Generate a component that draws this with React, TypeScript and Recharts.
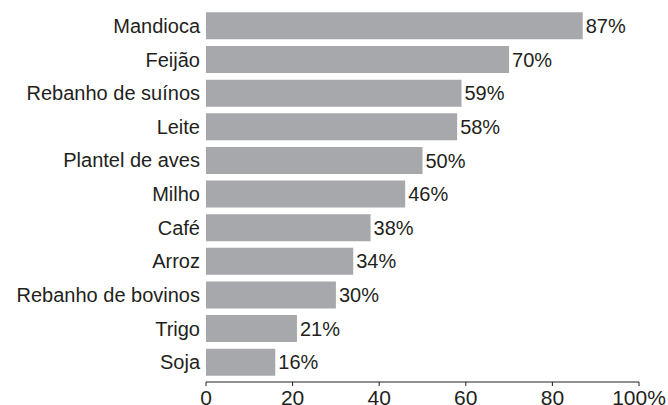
import React from 'react'
import { BarChart, Bar, XAxis, YAxis, LabelList } from 'recharts'

const categories = [
  'Mandioca', 'Feijão', 'Rebanho de suínos', 'Leite', 'Plantel de aves', 'Milho',
  'Café', 'Arroz', 'Rebanho de bovinos', 'Trigo', 'Soja',
]
const values = [87, 70, 59, 58, 50, 46, 38, 34, 30, 21, 16]
const xTicks = [0, 20, 40, 60, 80, 100]

const data = categories.map((name, i) => ({ name, value: values[i] }))

const ink = '#231f20'

export default function App() {
  return (
    <div style={{ position: 'absolute', left: 0, top: 0, fontFamily: '"Liberation Sans", Arial, sans-serif' }}>
      <BarChart
        width={668}
        height={405}
        data={data}
        layout="vertical"
        margin={{ top: 9, right: 29, left: 0, bottom: 0 }}
        barCategoryGap="10%"
      >
        <XAxis
          type="number"
          domain={[0, 100]}
          ticks={xTicks}
          tickFormatter={(v: number) => (v === 100 ? '100%' : String(v))}
          height={23}
          stroke={ink}
          tickSize={4}
          tickMargin={4}
          tick={{ fill: ink, fontSize: 21 }}
          interval={0}
        />
        <YAxis
          type="category"
          dataKey="name"
          width={206}
          axisLine={false}
          tickLine={false}
          tickSize={0}
          tickMargin={6}
          padding={{ top: 0, bottom: 3 }}
          tick={{ fill: ink, fontSize: 20 }}
          interval={0}
        />
        <Bar dataKey="value" fill="#a7a8ab" isAnimationActive={false}>
          <LabelList
            dataKey="value"
            position="right"
            offset={3}
            formatter={(v: any) => `${v}%`}
            style={{ fill: ink, fontSize: 20 }}
          />
        </Bar>
      </BarChart>
    </div>
  )
}
